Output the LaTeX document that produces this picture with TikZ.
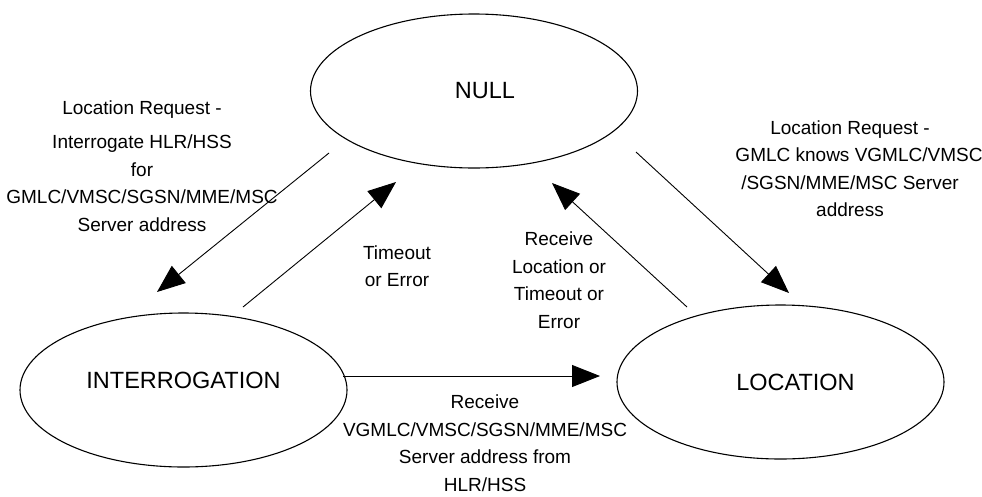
\documentclass[tikz,border=0pt]{standalone}
\usepackage{fontspec}
\setmainfont{Liberation Sans}
\usetikzlibrary{arrows.meta}
\usepgflibrary{shapes.geometric}

\begin{document}
\begin{tikzpicture}[x=1pt, y=1pt,
          state/.style={draw, ellipse, line width=1.1pt, minimum width=327pt, minimum height=154pt, inner sep=0pt, font=\fontsize{23.5}{28}\selectfont},
          trans/.style={line width=0.9pt, -{Triangle[length=28pt,width=22pt]}},
          note/.style={align=center, font=\fontsize{19}{27.5}\selectfont}]
          \useasboundingbox (0,0) rectangle (982,-496);

          \node[state] (null) at (474,-91) {\hspace*{22pt}NULL};
          \node[state, text height=18pt, text depth=21.2pt] (inter) at (183.5,-390) {INTERROGATION};
          \node[state] (loc) at (780.5,-382) {\hspace*{30pt}LOCATION};

          \draw [trans] ([shift={(-145,-62)}]null.center) -- ([shift={(-26.5,98)}]inter.center);
          \draw [trans] ([shift={(59.5,83)}]inter.center) -- ([shift={(-78,-91)}]null.center);
          \draw [trans] ([shift={(-93.5,75)}]loc.center) -- ([shift={(78,-92)}]null.center);
          \draw [trans] ([shift={(162,-61)}]null.center) -- ([shift={(8.5,89)}]loc.center);
          \draw [trans] ([shift={(159.5,14)}]inter.center) -- ([shift={(-180.5,6)}]loc.center);

          \node[note] (askhlr) at (142,-166) {Location Request -\\[7pt]Interrogate HLR/HSS\\for\\GMLC/VMSC/SGSN/MME/MSC\\Server address};
          \node[note] (knows) at (850,-168.5) {Location Request -\\\hspace*{18pt}GMLC knows VGMLC/VMSC\\/SGSN/MME/MSC Server\\address};
          \node[note] (fail) at (397,-266) {Timeout\\or Error};
          \node[note] (done) at (559,-280) {Receive\\Location or\\Timeout or\\Error};
          \node[note] (gotaddr) at (485,-443) {Receive\\VGMLC/VMSC/SGSN/MME/MSC\\Server address from\\HLR/HSS};
\end{tikzpicture}
\end{document}
